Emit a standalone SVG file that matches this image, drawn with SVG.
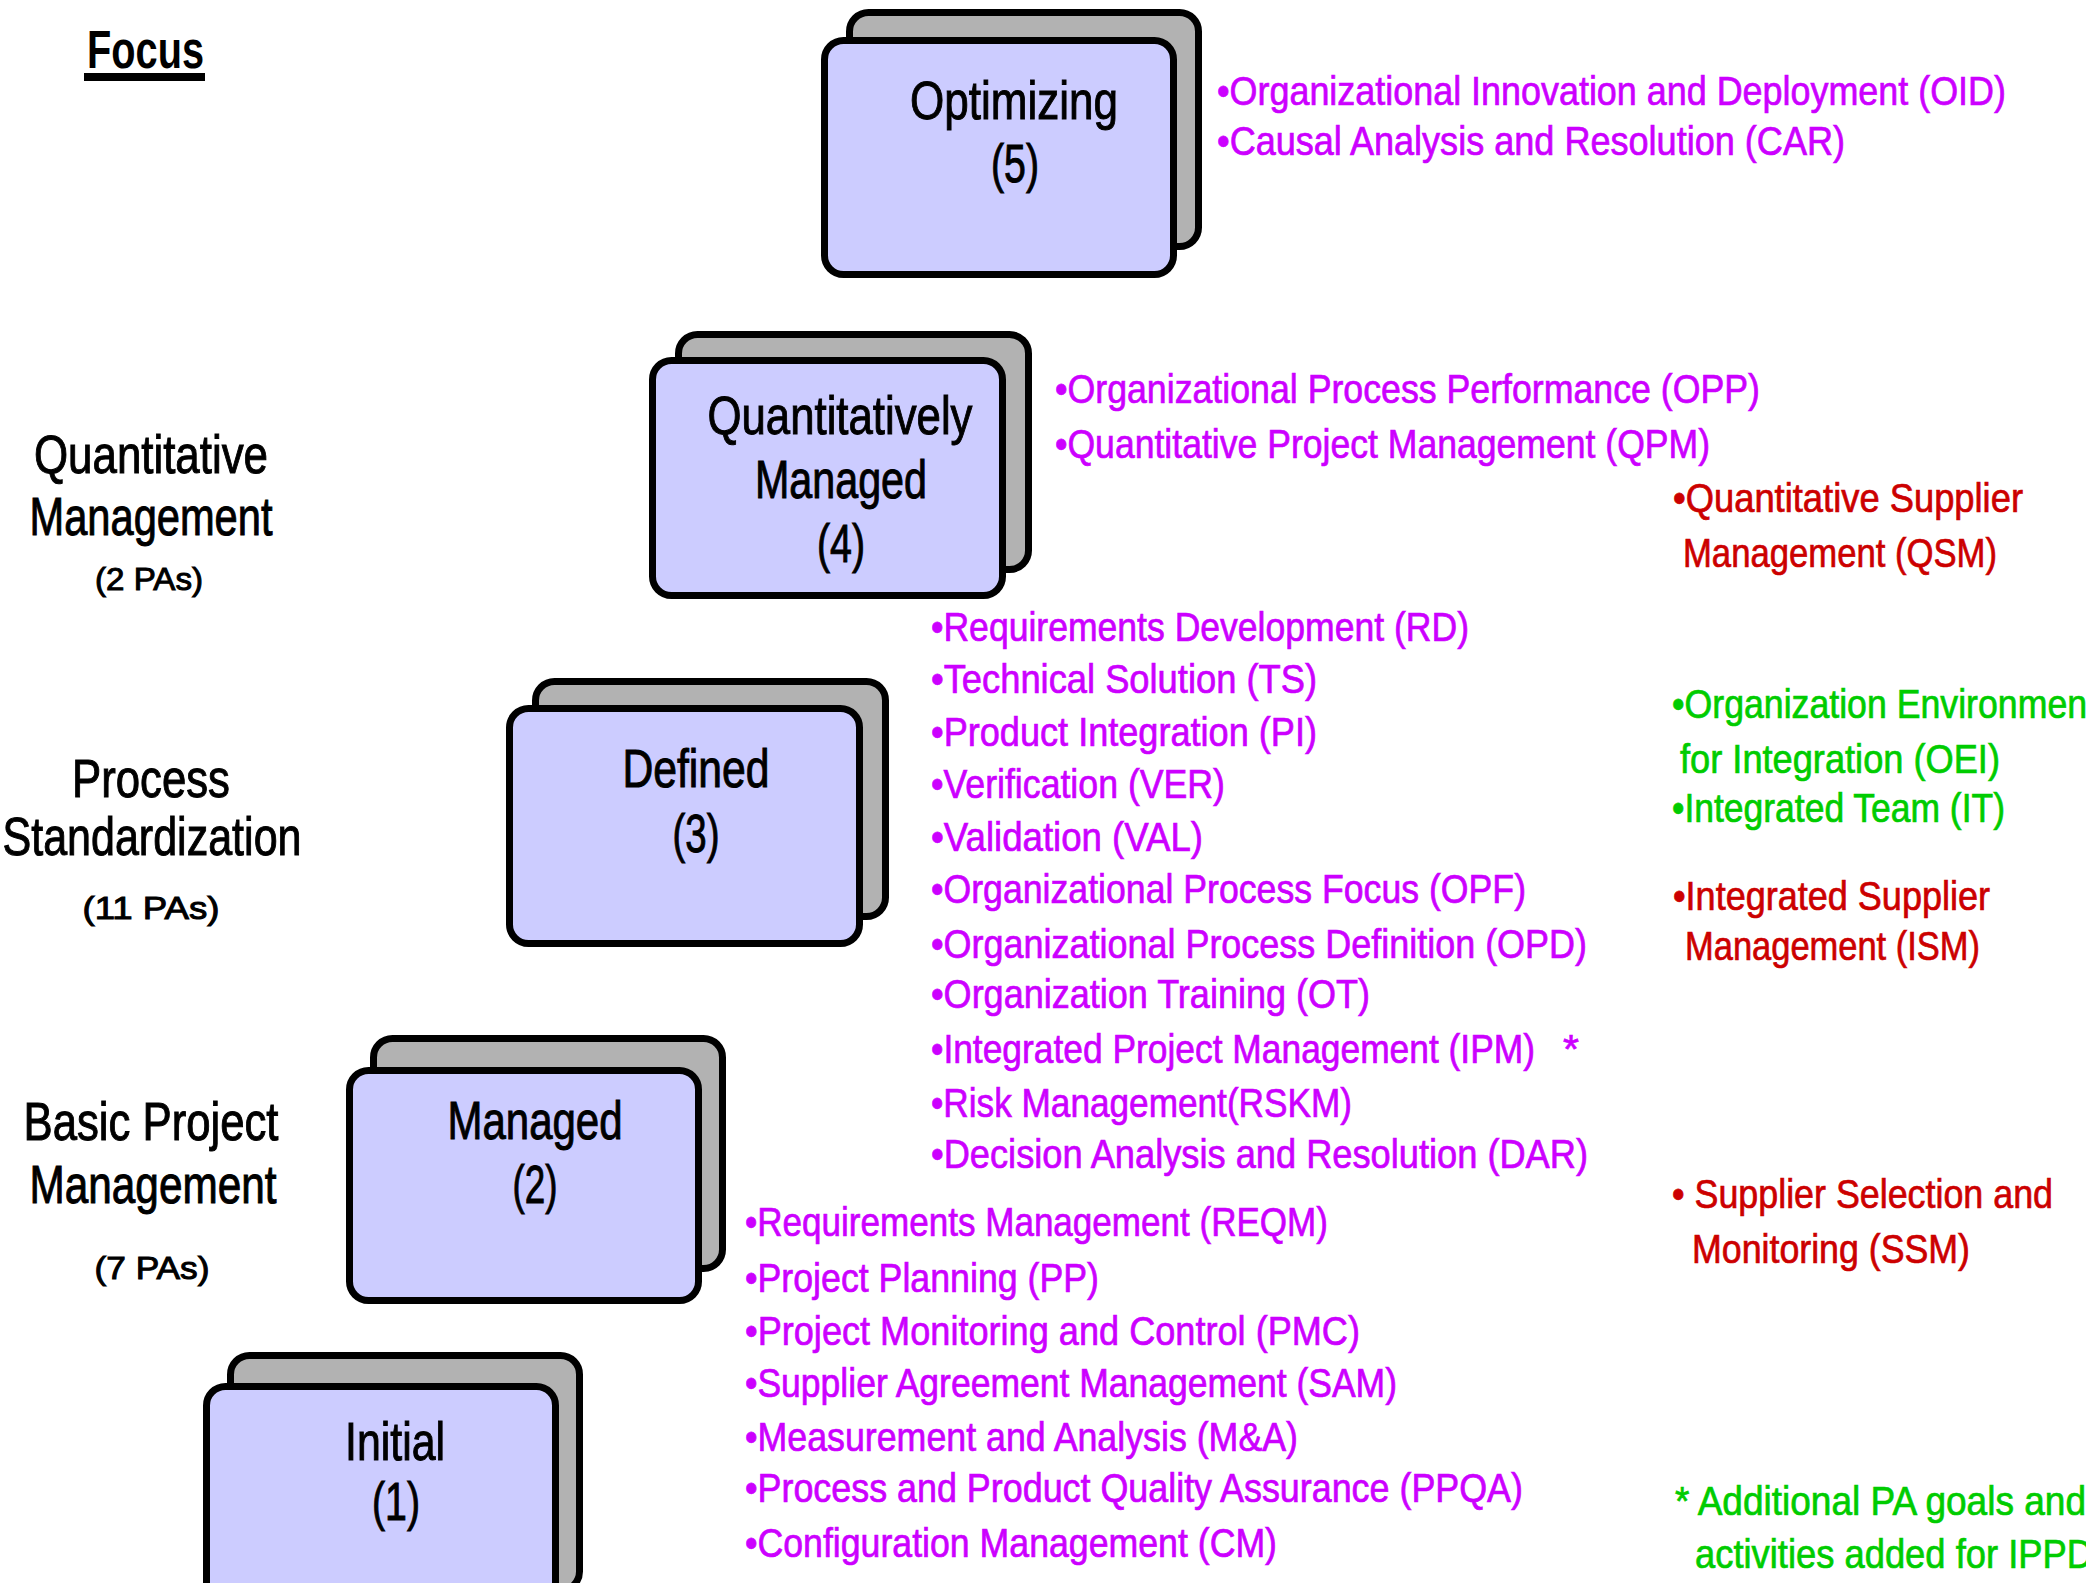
<svg xmlns="http://www.w3.org/2000/svg" width="2086" height="1583" viewBox="0 0 2086 1583">
  <style>
    text { font-family: "Liberation Sans", Arial, Helvetica, sans-serif; }
    .back { fill: #b2b2b2; stroke: #000; stroke-width: 7; }
    .front { fill: #ccccff; stroke: #000; stroke-width: 7; }
    .lvl { font-size: 54px; fill: #000; stroke: #000; stroke-width: 1; text-anchor: middle; }
    .focus { font-size: 54px; fill: #000; stroke: #000; stroke-width: 1; text-anchor: middle; }
    .pas { font-size: 32px; fill: #000; stroke: #000; stroke-width: 1; text-anchor: middle; }
    .pa { font-size: 41px; fill: #cc00ff; stroke: #cc00ff; stroke-width: 0.7; }
    .red { font-size: 40px; fill: #cc0000; stroke: #cc0000; stroke-width: 0.7; }
    .green { font-size: 40px; fill: #00cc00; stroke: #00cc00; stroke-width: 0.7; }
  </style>

  <rect width="2086" height="1583" fill="#ffffff"/>

  <!-- Column heading -->
  <g id="focus-heading">
    <text x="87" y="68" font-size="54" font-weight="bold" textLength="117" lengthAdjust="spacingAndGlyphs">Focus</text>
    <rect x="84" y="73" width="121" height="8" fill="#000"/>
  </g>

  <!-- Focus labels per level -->
  <g id="focus-quantitative">
    <text class="focus" x="151" y="473" textLength="234" lengthAdjust="spacingAndGlyphs">Quantitative</text>
    <text class="focus" x="151" y="535" textLength="243" lengthAdjust="spacingAndGlyphs">Management</text>
    <text class="pas" x="149" y="590" textLength="108" lengthAdjust="spacingAndGlyphs">(2 PAs)</text>
  </g>
  <g id="focus-standardization">
    <text class="focus" x="151" y="797" textLength="158" lengthAdjust="spacingAndGlyphs">Process</text>
    <text class="focus" x="152" y="855" textLength="299" lengthAdjust="spacingAndGlyphs">Standardization</text>
    <text class="pas" x="151" y="919" font-size="45" textLength="137" lengthAdjust="spacingAndGlyphs">(11 PAs)</text>
  </g>
  <g id="focus-basic">
    <text class="focus" x="151" y="1140" textLength="255" lengthAdjust="spacingAndGlyphs">Basic Project</text>
    <text class="focus" x="153" y="1203" textLength="247" lengthAdjust="spacingAndGlyphs">Management</text>
    <text class="pas" x="152" y="1279" textLength="115" lengthAdjust="spacingAndGlyphs">(7 PAs)</text>
  </g>

  <!-- Maturity levels: stacked rounded cards -->
  <g id="level-5">
    <rect class="back" x="849.5" y="12.5" width="349" height="234" rx="19"/>
    <rect class="front" x="824.5" y="40.5" width="349" height="234" rx="19"/>
    <text class="lvl" x="1014" y="119" textLength="208" lengthAdjust="spacingAndGlyphs">Optimizing</text>
    <text class="lvl" x="1015" y="182" textLength="48" lengthAdjust="spacingAndGlyphs">(5)</text>
  </g>
  <g id="level-4">
    <rect class="back" x="678.5" y="334.5" width="350" height="235" rx="19"/>
    <rect class="front" x="652.5" y="360.5" width="350" height="235" rx="19"/>
    <text class="lvl" x="840" y="434" textLength="265" lengthAdjust="spacingAndGlyphs">Quantitatively</text>
    <text class="lvl" x="841" y="498" textLength="172" lengthAdjust="spacingAndGlyphs">Managed</text>
    <text class="lvl" x="841" y="562" textLength="48" lengthAdjust="spacingAndGlyphs">(4)</text>
  </g>
  <g id="level-3">
    <rect class="back" x="535.5" y="681.5" width="350" height="235" rx="19"/>
    <rect class="front" x="509.5" y="708.5" width="350" height="235" rx="19"/>
    <text class="lvl" x="696" y="787" textLength="147" lengthAdjust="spacingAndGlyphs">Defined</text>
    <text class="lvl" x="696" y="852" textLength="47" lengthAdjust="spacingAndGlyphs">(3)</text>
  </g>
  <g id="level-2">
    <rect class="back" x="373.5" y="1038.5" width="349" height="230" rx="19"/>
    <rect class="front" x="349.5" y="1070.5" width="349" height="230" rx="19"/>
    <text class="lvl" x="535" y="1139" textLength="175" lengthAdjust="spacingAndGlyphs">Managed</text>
    <text class="lvl" x="535" y="1203" textLength="45" lengthAdjust="spacingAndGlyphs">(2)</text>
  </g>
  <g id="level-1">
    <rect class="back" x="230.5" y="1355.5" width="349" height="235" rx="19"/>
    <rect class="front" x="206.5" y="1386.5" width="349" height="235" rx="19"/>
    <text class="lvl" x="395" y="1460" textLength="100" lengthAdjust="spacingAndGlyphs">Initial</text>
    <text class="lvl" x="396" y="1520" textLength="48" lengthAdjust="spacingAndGlyphs">(1)</text>
  </g>

  <!-- Process areas, level 5 -->
  <g id="pa-level-5">
    <text class="pa" x="1217" y="105" textLength="789" lengthAdjust="spacingAndGlyphs">•Organizational Innovation and Deployment (OID)</text>
    <text class="pa" x="1217" y="155" textLength="628" lengthAdjust="spacingAndGlyphs">•Causal Analysis and Resolution (CAR)</text>
  </g>

  <!-- Process areas, level 4 -->
  <g id="pa-level-4">
    <text class="pa" x="1055" y="403" textLength="705" lengthAdjust="spacingAndGlyphs">•Organizational Process Performance (OPP)</text>
    <text class="pa" x="1055" y="458" textLength="655" lengthAdjust="spacingAndGlyphs">•Quantitative Project Management (QPM)</text>
  </g>
  <g id="pa-qsm">
    <text class="red" x="1673" y="512" textLength="350" lengthAdjust="spacingAndGlyphs">•Quantitative Supplier</text>
    <text class="red" x="1683" y="567" textLength="314" lengthAdjust="spacingAndGlyphs">Management (QSM)</text>
  </g>

  <!-- Process areas, level 3 -->
  <g id="pa-level-3">
    <text class="pa" x="931" y="641" textLength="538" lengthAdjust="spacingAndGlyphs">•Requirements Development (RD)</text>
    <text class="pa" x="931" y="693" textLength="386" lengthAdjust="spacingAndGlyphs">•Technical Solution (TS)</text>
    <text class="pa" x="931" y="746" textLength="386" lengthAdjust="spacingAndGlyphs">•Product Integration (PI)</text>
    <text class="pa" x="931" y="798" textLength="294" lengthAdjust="spacingAndGlyphs">•Verification (VER)</text>
    <text class="pa" x="931" y="851" textLength="272" lengthAdjust="spacingAndGlyphs">•Validation (VAL)</text>
    <text class="pa" x="931" y="903" textLength="595" lengthAdjust="spacingAndGlyphs">•Organizational Process Focus (OPF)</text>
    <text class="pa" x="931" y="958" textLength="656" lengthAdjust="spacingAndGlyphs">•Organizational Process Definition (OPD)</text>
    <text class="pa" x="931" y="1008" textLength="439" lengthAdjust="spacingAndGlyphs">•Organization Training (OT)</text>
    <text class="pa" x="931" y="1063"><tspan textLength="604" lengthAdjust="spacingAndGlyphs">•Integrated Project Management (IPM)</tspan><tspan x="1563">*</tspan></text>
    <text class="pa" x="931" y="1117" textLength="421" lengthAdjust="spacingAndGlyphs">•Risk Management(RSKM)</text>
    <text class="pa" x="931" y="1168" textLength="657" lengthAdjust="spacingAndGlyphs">•Decision Analysis and Resolution (DAR)</text>
  </g>
  <g id="pa-ippd">
    <text class="green" x="1672" y="718" textLength="425" lengthAdjust="spacingAndGlyphs">•Organization Environment</text>
    <text class="green" x="1680" y="773" textLength="320" lengthAdjust="spacingAndGlyphs">for Integration (OEI)</text>
    <text class="green" x="1672" y="822" textLength="333" lengthAdjust="spacingAndGlyphs">•Integrated Team (IT)</text>
  </g>
  <g id="pa-ism">
    <text class="red" x="1673" y="910" textLength="317" lengthAdjust="spacingAndGlyphs">•Integrated Supplier</text>
    <text class="red" x="1685" y="960" textLength="295" lengthAdjust="spacingAndGlyphs">Management (ISM)</text>
  </g>

  <!-- Process areas, level 2 -->
  <g id="pa-level-2">
    <text class="pa" x="745" y="1236" textLength="583" lengthAdjust="spacingAndGlyphs">•Requirements Management (REQM)</text>
    <text class="pa" x="745" y="1292" textLength="354" lengthAdjust="spacingAndGlyphs">•Project Planning (PP)</text>
    <text class="pa" x="745" y="1345" textLength="615" lengthAdjust="spacingAndGlyphs">•Project Monitoring and Control (PMC)</text>
    <text class="pa" x="745" y="1397" textLength="652" lengthAdjust="spacingAndGlyphs">•Supplier Agreement Management (SAM)</text>
    <text class="pa" x="745" y="1451" textLength="553" lengthAdjust="spacingAndGlyphs">•Measurement and Analysis (M&amp;A)</text>
    <text class="pa" x="745" y="1502" textLength="778" lengthAdjust="spacingAndGlyphs">•Process and Product Quality Assurance (PPQA)</text>
    <text class="pa" x="745" y="1557" textLength="532" lengthAdjust="spacingAndGlyphs">•Configuration Management (CM)</text>
  </g>
  <g id="pa-ssm">
    <text class="red" x="1672" y="1208" textLength="381" lengthAdjust="spacingAndGlyphs">• Supplier Selection and</text>
    <text class="red" x="1692" y="1263" textLength="278" lengthAdjust="spacingAndGlyphs">Monitoring (SSM)</text>
  </g>

  <!-- Footnote -->
  <g id="footnote">
    <text class="green" x="1675" y="1515" textLength="411" lengthAdjust="spacingAndGlyphs">* Additional PA goals and</text>
    <text class="green" x="1695" y="1568" textLength="398" lengthAdjust="spacingAndGlyphs">activities added for IPPD</text>
  </g>
</svg>
